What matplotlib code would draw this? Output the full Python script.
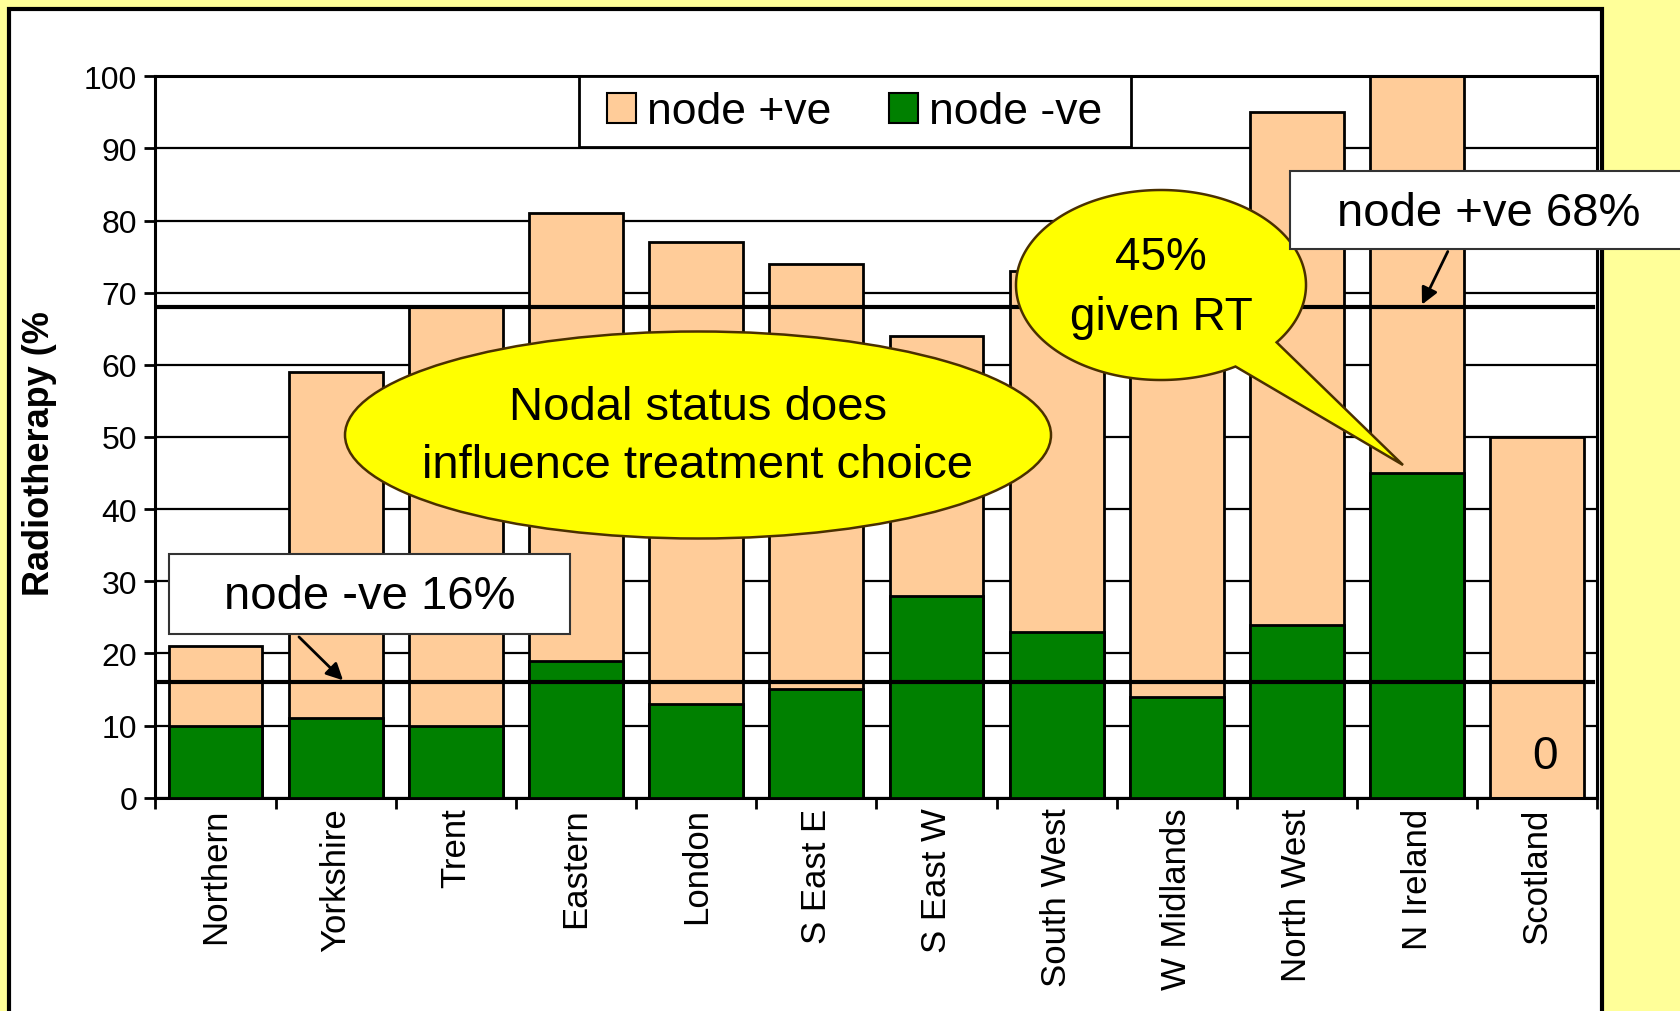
import numpy as np
import matplotlib.pyplot as plt
from matplotlib.patches import Rectangle, Ellipse, Polygon

plt.rcParams['font.family'] = ['Liberation Sans', 'DejaVu Sans']

# Radiotherapy rates by region
regions = ["Northern", "Yorkshire", "Trent", "Eastern", "London", "S East E",
           "S East W", "South West", "W Midlands", "North West", "N Ireland", "Scotland"]
node_pos = [21, 59, 68, 81, 77, 74, 64, 73, 70, 95, 100, 50]
node_neg = [10, 11, 10, 19, 13, 15, 28, 23, 14, 24, 45, 0]
avg_pos = 68
avg_neg = 16

PEACH = "#FFCC99"
GREEN = "#008000"
BUBBLE = "#FFFF00"
BUBBLE_EDGE = "#4A3000"

W, H = 1681, 1012
fig = plt.figure(figsize=(W / 100, H / 100), dpi=100)
fig.patch.set_facecolor("#FFFF99")

# white slide panel
fig.add_artist(Rectangle((9 / W, -0.05), (1602 - 9) / W, 1.05 - 10 / H,
                         transform=fig.transFigure, facecolor="white",
                         edgecolor="black", linewidth=3, zorder=-10))

ax = fig.add_axes([155.4 / W, 1 - 798.7 / H, (1597.4 - 155.4) / W, (798.7 - 77.2) / H])
x = np.arange(len(regions))
ax.bar(x, node_pos, width=0.78, color=PEACH, edgecolor="black", linewidth=2,
       label="node +ve", zorder=2)
ax.bar(x, node_neg, width=0.78, color=GREEN, edgecolor="black", linewidth=2,
       label="node -ve", zorder=3)

ax.axhline(avg_pos, xmin=0, xmax=0.997, color="black", linewidth=3, zorder=4)
ax.axhline(avg_neg, xmin=0, xmax=0.997, color="black", linewidth=3, zorder=4)

ax.set_xlim(-0.5, len(regions) - 0.5)
ax.set_ylim(0, 100)
ax.set_yticks(range(0, 101, 10))
ax.yaxis.grid(True, color="black", linewidth=1.6, zorder=0)
ax.set_axisbelow(True)
ax.tick_params(axis="y", labelsize=23, length=8, width=2, pad=5)
ax.set_xticks(x)
ax.set_xticklabels(regions, rotation=90, fontsize=25)
ax.set_xticks(np.arange(-0.5, len(regions)), minor=True)
ax.tick_params(axis="x", which="major", length=0, pad=7)
ax.tick_params(axis="x", which="minor", length=8, width=2)
for s in ax.spines.values():
    s.set_linewidth(2.2)

# Scotland has no node -ve cases
ax.text(x[-1] + 0.06, 5.8, str(node_neg[-1]), fontsize=33, ha="center", va="center", zorder=5)

# legend box
ax.add_artist(Rectangle((579 / W, 1 - 148 / H), (1131 - 579) / W, 71 / H,
                        transform=fig.transFigure, facecolor="white", edgecolor="black",
                        linewidth=2, zorder=5.5, clip_on=False))
leg = ax.legend(loc="center left", bbox_to_anchor=(607 / W, 1 - 113 / H),
                bbox_transform=fig.transFigure, ncol=2, fontsize=32, frameon=False,
                handlelength=0.65, handleheight=0.65, handletextpad=0.25,
                columnspacing=1.3, borderpad=0, borderaxespad=0)
for h in leg.legend_handles:
    h.set_linewidth(1.5)
leg.set_zorder(6)

fig.text(40 / W, 1 - 454 / H, "Radiotherapy (%", rotation=90, fontsize=26,
         fontweight="bold", ha="center", va="center")

# overlay in pixel coordinates for the callouts
ov = fig.add_axes([0, 0, 1, 1], zorder=5)
ov.set_xlim(0, W)
ov.set_ylim(H, 0)
ov.axis("off")

# big bubble
ov.add_patch(Ellipse((698, 436), 706, 207, facecolor=BUBBLE, edgecolor=BUBBLE_EDGE,
                     linewidth=1.8))
ov.text(698, 437, "Nodal status does\ninfluence treatment choice", fontsize=34,
        ha="center", va="center", linespacing=1.4)

# speech bubble with tail
cx, cy, a, b = 1161, 286, 145, 95
b1 = (1276, 343)
b2 = (1235, 367)
tip = (1403, 466)
t1 = np.arctan2((b1[1] - cy) / b, (b1[0] - cx) / a)
t2 = np.arctan2((b2[1] - cy) / b, (b2[0] - cx) / a)
ts = np.linspace(t2, t1 + 2 * np.pi, 300)
pts = np.column_stack([cx + a * np.cos(ts), cy + b * np.sin(ts)])
pts = np.vstack([pts, tip])
ov.add_patch(Polygon(pts, closed=True, facecolor=BUBBLE, edgecolor=BUBBLE_EDGE,
                     linewidth=1.8, joinstyle="miter"))
ov.text(cx, 288, "45%\ngiven RT", fontsize=33, ha="center", va="center", linespacing=1.45)

# callout boxes
ov.add_patch(Rectangle((169, 555), 401, 80, facecolor="white", edgecolor="#333333",
                       linewidth=1.5))
ov.text(370, 597, "node -ve 16%", fontsize=34, ha="center", va="center")
ov.annotate("", xy=(1.078, avg_neg), xycoords=ax.transData, xytext=(297, 636),
            textcoords=ov.transData,
            arrowprops=dict(arrowstyle="-|>", color="black", lw=2, mutation_scale=25))

ov.add_patch(Rectangle((1290, 172), 420, 78, facecolor="white", edgecolor="#333333",
                       linewidth=1.5))
ov.text(1489, 214, "node +ve 68%", fontsize=34, ha="center", va="center")
ov.annotate("", xy=(10.03, avg_pos), xycoords=ax.transData, xytext=(1449, 250),
            textcoords=ov.transData,
            arrowprops=dict(arrowstyle="-|>", color="black", lw=2, mutation_scale=25))

fig.savefig("out.png", dpi=100, facecolor=fig.get_facecolor())
